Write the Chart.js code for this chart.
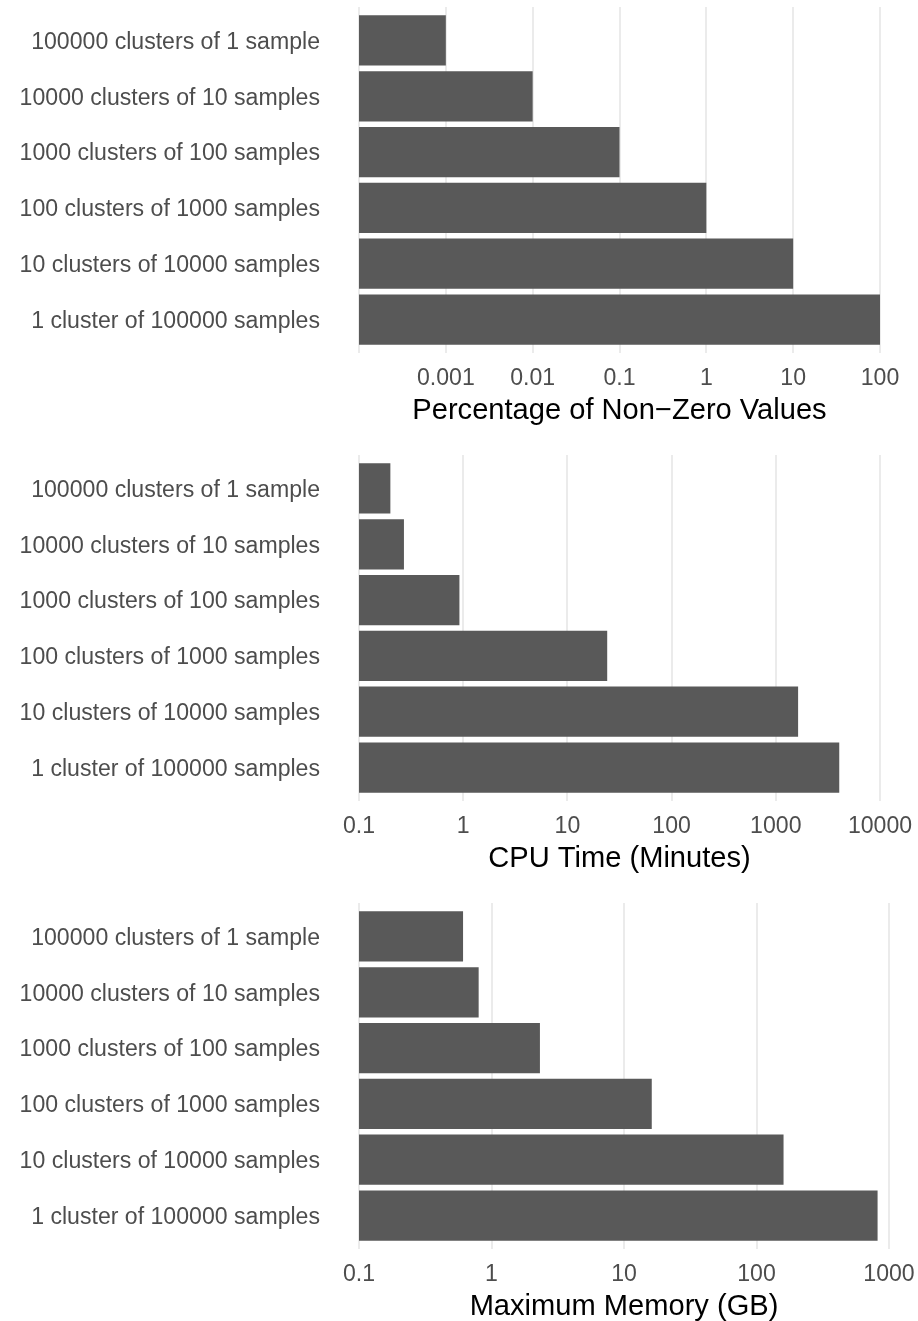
<!DOCTYPE html>
<html>
<head>
<meta charset="utf-8">
<script src="https://cdn.jsdelivr.net/npm/chart.js@4.4.1/dist/chart.umd.min.js"></script>
<style>
  html, body { margin: 0; padding: 0; background: #ffffff; overflow: hidden; }
  #wrap { position: relative; width: 918px; height: 1321px; }
  #wrap canvas { position: absolute; left: 0; display: block; }
</style>
</head>
<body>
<div id="wrap">
  <canvas id="pct" width="918" height="448" style="top:0px"></canvas>
  <canvas id="cpu" width="918" height="448" style="top:448px"></canvas>
  <canvas id="mem" width="918" height="425" style="top:896px"></canvas>
</div>
<script>
// Cluster configurations (top to bottom)
const categories = [
  "100000 clusters of 1 sample",
  "10000 clusters of 10 samples",
  "1000 clusters of 100 samples",
  "100 clusters of 1000 samples",
  "10 clusters of 10000 samples",
  "1 cluster of 100000 samples"
];

// Percentage of non-zero values per configuration
const pctNonZero = [0.001, 0.01, 0.1, 1, 10, 100];
// CPU time in minutes
const cpuMinutes = [0.2, 0.27, 0.92, 24.1, 1637, 4064];
// Peak memory in GB
const memoryGB = [0.61, 0.80, 2.32, 16.2, 160, 820];

// Log-axis breaks and their labels
const pctTicks = [0.0001, 0.001, 0.01, 0.1, 1, 10, 100];
const pctTickLabels = ["", "0.001", "0.01", "0.1", "1", "10", "100"];
const cpuTicks = [0.1, 1, 10, 100, 1000, 10000];
const cpuTickLabels = ["0.1", "1", "10", "100", "1000", "10000"];
const memTicks = [0.1, 1, 10, 100, 1000];
const memTickLabels = ["0.1", "1", "10", "100", "1000"];

Chart.defaults.font.family = "'Liberation Sans', Arial, Helvetica, sans-serif";
Chart.defaults.animation = false;

const TICK_SIZE = 23.1;
const TITLE_SIZE = 29.1;
const AREA_TOP = 7;
const AREA_BOTTOM = 353;   // plot area bottom inside each canvas
const TITLE_CENTER = 411;  // axis title centre inside each canvas
const Y_AXIS_WIDTH = 359;

function drawPanel(id, values, tickValues, tickLabels, axisMin, axisMax, titleText, padRight) {
  const canvas = document.getElementById(id);
  const h = canvas.height;
  const titleLine = TITLE_SIZE * 1.2;
  new Chart(canvas, {
    type: 'bar',
    data: {
      datasets: [{
        data: values.map((v, i) => ({ x: v, y: i })),
        backgroundColor: '#595959',
        borderWidth: 0,
        barPercentage: 0.9,
        categoryPercentage: 1.0
      }]
    },
    options: {
      responsive: false,
      devicePixelRatio: 1,
      indexAxis: 'y',
      layout: { padding: { top: AREA_TOP, right: padRight, bottom: 0, left: 0 } },
      plugins: { legend: { display: false }, tooltip: { enabled: false } },
      scales: {
        x: {
          type: 'logarithmic',
          position: 'bottom',
          min: axisMin,
          max: axisMax,
          afterBuildTicks: (scale) => {
            scale.ticks = tickValues.map(v => ({ value: v }));
          },
          afterFit: (scale) => {
            scale.height = h - AREA_BOTTOM;
            scale.paddingLeft = 0;
            scale.paddingRight = 0;
          },
          grid: { color: '#EBEBEB', lineWidth: 2, drawTicks: false },
          border: { display: false },
          ticks: {
            autoSkip: false,
            maxRotation: 0,
            padding: 12,
            color: '#4D4D4D',
            font: { size: TICK_SIZE },
            callback: (value, index) => tickLabels[index]
          },
          title: {
            display: true,
            text: titleText,
            color: '#000000',
            font: { size: TITLE_SIZE },
            padding: { top: 0, bottom: h - TITLE_CENTER - titleLine / 2 }
          }
        },
        y: {
          type: 'linear',
          reverse: true,
          offset: false,
          min: -0.6,
          max: 5.6,
          afterBuildTicks: (scale) => {
            scale.ticks = categories.map((c, i) => ({ value: i }));
          },
          afterFit: (scale) => {
            scale.width = Y_AXIS_WIDTH;
            scale.paddingTop = 0;
            scale.paddingBottom = 0;
          },
          grid: { display: false, drawTicks: false },
          border: { display: false },
          ticks: {
            autoSkip: false,
            padding: 39,
            labelOffset: 2,
            color: '#4D4D4D',
            font: { size: TICK_SIZE },
            callback: (value) => categories[value]
          }
        }
      }
    }
  });
}

drawPanel('pct', pctNonZero, pctTicks, pctTickLabels, 0.0001, 100, 'Percentage of Non\u2212Zero Values', 38);
drawPanel('cpu', cpuMinutes, cpuTicks, cpuTickLabels, 0.1, 10000, 'CPU Time (Minutes)', 38);
drawPanel('mem', memoryGB, memTicks, memTickLabels, 0.1, 1000, 'Maximum Memory (GB)', 29);
</script>
</body>
</html>
